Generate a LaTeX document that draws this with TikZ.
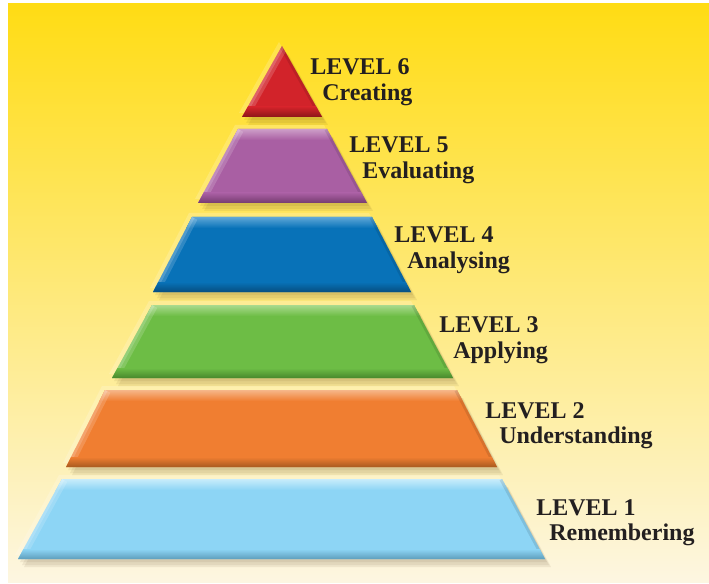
\documentclass[tikz,border=0pt]{standalone}
\usepackage{fontspec}
\setmainfont{Liberation Serif}
\usepackage{xcolor}
\usepackage{tikz}
\usetikzlibrary{shapes, arrows}

\definecolor{bgtop}{RGB}{255,220,20}
\definecolor{bgmid}{RGB}{254,234,140}
\definecolor{bgbot}{RGB}{253,246,225}
\definecolor{txtc}{RGB}{35,31,32}
\definecolor{lvsix}{RGB}{210,35,42}
\definecolor{lvsixhl}{RGB}{233,120,124}
\definecolor{lvsixdk}{RGB}{140,20,24}
\definecolor{lvfive}{RGB}{169,95,163}
\definecolor{lvfivehl}{RGB}{205,158,200}
\definecolor{lvfivedk}{RGB}{118,60,112}
\definecolor{lvfour}{RGB}{8,114,184}
\definecolor{lvfourhl}{RGB}{95,168,216}
\definecolor{lvfourdk}{RGB}{6,78,128}
\definecolor{lvthree}{RGB}{109,189,69}
\definecolor{lvthreehl}{RGB}{170,218,142}
\definecolor{lvthreedk}{RGB}{72,136,44}
\definecolor{lvtwo}{RGB}{240,126,49}
\definecolor{lvtwohl}{RGB}{246,182,137}
\definecolor{lvtwodk}{RGB}{168,90,32}
\definecolor{lvone}{RGB}{141,213,245}
\definecolor{lvonehl}{RGB}{200,236,251}
\definecolor{lvonedk}{RGB}{94,158,188}

\begin{document}
\begin{tikzpicture}[x=0.75pt,y=0.75pt,yscale=-1,xscale=1,
  shadowc/.style={fill=black!60!brown, fill opacity=0.08},
  glowc/.style={fill=white, fill opacity=0.18},
  edgehl/.style={draw=white, draw opacity=0.16, line width=9},
  edgehlin/.style={draw=white, draw opacity=0.16, line width=4},
  edgedk/.style={draw=black, draw opacity=0.10, line width=4},
  lvtext/.style={anchor=base west, inner sep=0pt, text=txtc,
    font=\fontsize{18}{20}\selectfont\bfseries}]
\useasboundingbox (0,0) rectangle (709,584);

%Shape: Background [yellow card]
\shade[top color=bgtop, middle color=bgmid, bottom color=bgbot] (8,4) rectangle (709,582) ;

%Shape: Trapezoid [Level 1]
\fill[glowc, shift={(-3,-4)}] (62,479) -- (502,479) -- (545,559) -- (18,559) -- cycle ;
\fill[shadowc, shift={(2,3)}] (62,479) -- (502,479) -- (545,559) -- (18,559) -- cycle ;
\fill[shadowc, shift={(4,6)}] (62,479) -- (502,479) -- (545,559) -- (18,559) -- cycle ;
\fill[shadowc, shift={(6,8)}] (62,479) -- (502,479) -- (545,559) -- (18,559) -- cycle ;
\fill[lvone] (62,479) -- (502,479) -- (545,559) -- (18,559) -- cycle ;
\begin{scope}
\clip (62,479) -- (502,479) -- (545,559) -- (18,559) -- cycle ;
\shade[top color=lvonehl, bottom color=lvone] (0,479) rectangle (709,490) ;
\draw[edgehl] (62,479) -- (18,559) ;
\draw[edgehlin] (62,479) -- (18,559) ;
\draw[edgedk] (502,479) -- (545,559) ;
\shade[top color=lvone, bottom color=lvonedk] (0,549) rectangle (709,559) ;
\end{scope}

%Shape: Trapezoid [Level 2]
\fill[glowc, shift={(-3,-4)}] (105,390) -- (457,390) -- (497,467) -- (66,467) -- cycle ;
\fill[shadowc, shift={(2,3)}] (105,390) -- (457,390) -- (497,467) -- (66,467) -- cycle ;
\fill[shadowc, shift={(4,6)}] (105,390) -- (457,390) -- (497,467) -- (66,467) -- cycle ;
\fill[shadowc, shift={(6,8)}] (105,390) -- (457,390) -- (497,467) -- (66,467) -- cycle ;
\fill[lvtwo] (105,390) -- (457,390) -- (497,467) -- (66,467) -- cycle ;
\begin{scope}
\clip (105,390) -- (457,390) -- (497,467) -- (66,467) -- cycle ;
\shade[top color=lvtwohl, bottom color=lvtwo] (0,390) rectangle (709,401) ;
\draw[edgehl] (105,390) -- (66,467) ;
\draw[edgehlin] (105,390) -- (66,467) ;
\draw[edgedk] (457,390) -- (497,467) ;
\shade[top color=lvtwo, bottom color=lvtwodk] (0,457) rectangle (709,467) ;
\end{scope}

%Shape: Trapezoid [Level 3]
\fill[glowc, shift={(-3,-4)}] (152,305) -- (414,305) -- (453,378) -- (112,378) -- cycle ;
\fill[shadowc, shift={(2,3)}] (152,305) -- (414,305) -- (453,378) -- (112,378) -- cycle ;
\fill[shadowc, shift={(4,6)}] (152,305) -- (414,305) -- (453,378) -- (112,378) -- cycle ;
\fill[shadowc, shift={(6,8)}] (152,305) -- (414,305) -- (453,378) -- (112,378) -- cycle ;
\fill[lvthree] (152,305) -- (414,305) -- (453,378) -- (112,378) -- cycle ;
\begin{scope}
\clip (152,305) -- (414,305) -- (453,378) -- (112,378) -- cycle ;
\shade[top color=lvthreehl, bottom color=lvthree] (0,305) rectangle (709,316) ;
\draw[edgehl] (152,305) -- (112,378) ;
\draw[edgehlin] (152,305) -- (112,378) ;
\draw[edgedk] (414,305) -- (453,378) ;
\shade[top color=lvthree, bottom color=lvthreedk] (0,368) rectangle (709,378) ;
\end{scope}

%Shape: Trapezoid [Level 4]
\fill[glowc, shift={(-3,-4)}] (192,217) -- (372,217) -- (411,292) -- (153,292) -- cycle ;
\fill[shadowc, shift={(2,3)}] (192,217) -- (372,217) -- (411,292) -- (153,292) -- cycle ;
\fill[shadowc, shift={(4,6)}] (192,217) -- (372,217) -- (411,292) -- (153,292) -- cycle ;
\fill[shadowc, shift={(6,8)}] (192,217) -- (372,217) -- (411,292) -- (153,292) -- cycle ;
\fill[lvfour] (192,217) -- (372,217) -- (411,292) -- (153,292) -- cycle ;
\begin{scope}
\clip (192,217) -- (372,217) -- (411,292) -- (153,292) -- cycle ;
\shade[top color=lvfourhl, bottom color=lvfour] (0,217) rectangle (709,228) ;
\draw[edgehl] (192,217) -- (153,292) ;
\draw[edgehlin] (192,217) -- (153,292) ;
\draw[edgedk] (372,217) -- (411,292) ;
\shade[top color=lvfour, bottom color=lvfourdk] (0,282) rectangle (709,292) ;
\end{scope}

%Shape: Trapezoid [Level 5]
\fill[glowc, shift={(-3,-4)}] (238,129) -- (327,129) -- (367,203) -- (198,203) -- cycle ;
\fill[shadowc, shift={(2,3)}] (238,129) -- (327,129) -- (367,203) -- (198,203) -- cycle ;
\fill[shadowc, shift={(4,6)}] (238,129) -- (327,129) -- (367,203) -- (198,203) -- cycle ;
\fill[shadowc, shift={(6,8)}] (238,129) -- (327,129) -- (367,203) -- (198,203) -- cycle ;
\fill[lvfive] (238,129) -- (327,129) -- (367,203) -- (198,203) -- cycle ;
\begin{scope}
\clip (238,129) -- (327,129) -- (367,203) -- (198,203) -- cycle ;
\shade[top color=lvfivehl, bottom color=lvfive] (0,129) rectangle (709,140) ;
\draw[edgehl] (238,129) -- (198,203) ;
\draw[edgehlin] (238,129) -- (198,203) ;
\draw[edgedk] (327,129) -- (367,203) ;
\shade[top color=lvfive, bottom color=lvfivedk] (0,193) rectangle (709,203) ;
\end{scope}

%Shape: Triangle [Level 6]
\fill[glowc, shift={(-3,-4)}] (282,46) -- (322,117) -- (242,117) -- cycle ;
\fill[shadowc, shift={(2,3)}] (282,46) -- (322,117) -- (242,117) -- cycle ;
\fill[shadowc, shift={(4,6)}] (282,46) -- (322,117) -- (242,117) -- cycle ;
\fill[shadowc, shift={(6,8)}] (282,46) -- (322,117) -- (242,117) -- cycle ;
\fill[lvsix] (282,46) -- (322,117) -- (242,117) -- cycle ;
\begin{scope}
\clip (282,46) -- (322,117) -- (242,117) -- cycle ;
\draw[edgehl] (282,46) -- (242,117) ;
\draw[edgehlin] (282,46) -- (242,117) ;
\draw[edgedk] (282,46) -- (322,117) ;
\shade[top color=lvsix, bottom color=lvsixdk] (0,107) rectangle (709,117) ;
\end{scope}

% Text Node
\node[lvtext] (lvsixa) at (310,75) {LEVEL 6};
\node[lvtext] (lvsixb) at (322,101) {Creating};
\node[lvtext] (lvfivea) at (349,153) {LEVEL 5};
\node[lvtext] (lvfiveb) at (362,179) {Evaluating};
\node[lvtext] (lvfoura) at (394,243) {LEVEL 4};
\node[lvtext] (lvfourb) at (407,268) {Analysing};
\node[lvtext] (lvthreea) at (439,332) {LEVEL 3};
\node[lvtext] (lvthreeb) at (453,358) {Applying};
\node[lvtext] (lvtwoa) at (485,418) {LEVEL 2};
\node[lvtext] (lvtwob) at (499,443) {Understanding};
\node[lvtext] (lvonea) at (536,515) {LEVEL 1};
\node[lvtext] (lvoneb) at (549,540) {Remembering};

\end{tikzpicture}
\end{document}
